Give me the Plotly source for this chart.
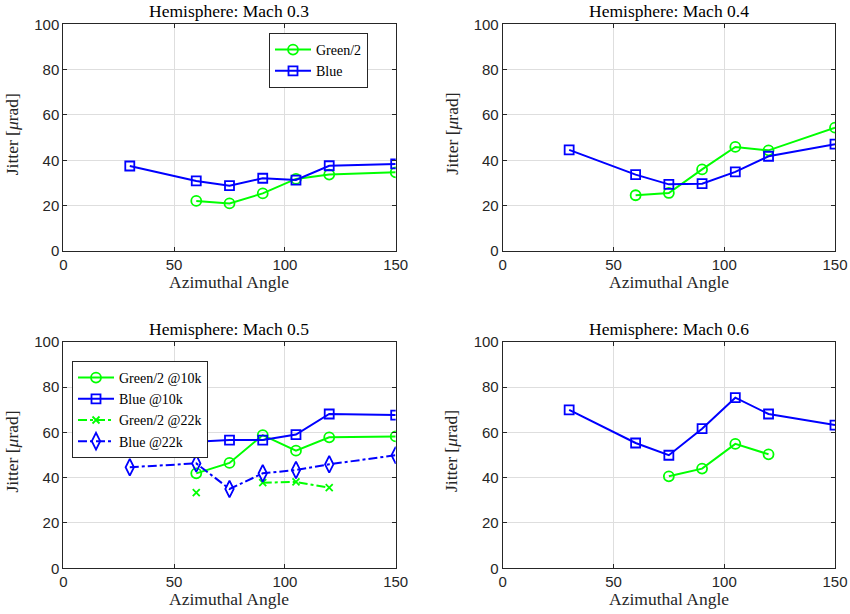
import plotly.graph_objects as go
from plotly.subplots import make_subplots

angles = [30, 60, 75, 90, 105, 120, 150]

# Mach 0.3
m03_green = [None, 22.1, 21.0, 25.4, 31.8, 33.7, 34.7]
m03_blue = [37.5, 30.9, 28.8, 32.1, 31.3, 37.6, 38.4]
# Mach 0.4
m04_green = [None, 24.6, 25.6, 36.0, 45.9, 44.4, 54.4]
m04_blue = [44.6, 33.7, 29.4, 29.7, 34.9, 41.8, 47.1]
# Mach 0.5
m05_green10 = [None, 41.9, 46.5, 58.8, 51.9, 57.8, 58.2]
m05_blue10 = [None, 55.9, 56.6, 56.6, 59.0, 68.1, 67.6]
m05_green22 = [None, 33.4, None, 37.8, 38.1, 35.6, None]
m05_blue22 = [44.6, 46.3, 35.0, 41.9, 43.4, 45.9, 49.9]
# Mach 0.6
m06_green = [None, None, 40.6, 44.0, 54.9, 50.3, None]
m06_blue = [69.9, 55.3, 49.9, 61.6, 75.3, 68.1, 63.2]

titles = ["Hemisphere: Mach 0.3", "Hemisphere: Mach 0.4",
          "Hemisphere: Mach 0.5", "Hemisphere: Mach 0.6"]
x_tick_vals = [0, 50, 100, 150]
y_tick_vals = [0, 20, 40, 60, 80, 100]

GREEN = "#00ff00"
BLUE = "#0000ff"
SERIF = "Liberation Serif, DejaVu Serif, serif"
SANS = "Liberation Sans, Arial, sans-serif"

fig = make_subplots(rows=2, cols=2)

def add(row, col, y, color, symbol, name, dash="solid", legend=None, size=10):
    fig.add_trace(go.Scatter(
        x=angles, y=y, mode="lines+markers", name=name,
        line=dict(color=color, width=2, dash=dash),
        marker=dict(symbol=symbol, size=size, color=color,
                    line=dict(color=color, width=1.8)),
        showlegend=legend is not None,
        legend=legend if legend else "legend",
        connectgaps=False,
    ), row=row, col=col)

add(1, 1, m03_green, GREEN, "circle-open", "Green/2", legend="legend")
add(1, 1, m03_blue, BLUE, "square-open", "Blue", legend="legend", size=9)
add(1, 2, m04_green, GREEN, "circle-open", "Green/2")
add(1, 2, m04_blue, BLUE, "square-open", "Blue", size=9)
add(2, 1, m05_green10, GREEN, "circle-open", "Green/2 @10k", legend="legend2")
add(2, 1, m05_blue10, BLUE, "square-open", "Blue @10k", legend="legend2", size=9)
add(2, 1, m05_green22, GREEN, "x-thin-open", "Green/2 @22k", dash="dashdot", legend="legend2", size=7)
add(2, 1, m05_blue22, BLUE, "diamond-tall-open", "Blue @22k", dash="dashdot", legend="legend2", size=12)
add(2, 2, m06_green, GREEN, "circle-open", "Green/2")
add(2, 2, m06_blue, BLUE, "square-open", "Blue", size=9)

W, H = 850, 614
def px_x(v):
    return v / W
def px_y(v):
    return 1 - v / H

xdom = [[px_x(63.3), px_x(395.7)], [px_x(502.7), px_x(835)]]
ydom = [[px_y(251), px_y(24.3)], [px_y(568.3), px_y(341.7)]]

axis_common = dict(
    showline=True, linecolor="#262626", linewidth=1, mirror="ticks",
    ticks="inside", ticklen=4, tickcolor="#262626",
    showgrid=True, gridcolor="#dedede", gridwidth=1,
    zeroline=False, automargin=False,
    tickfont=dict(family=SANS, size=15, color="#262626"),
)

for i, (r, c) in enumerate([(1, 1), (1, 2), (2, 1), (2, 2)]):
    idx = i + 1
    xa = "xaxis" if idx == 1 else f"xaxis{idx}"
    ya = "yaxis" if idx == 1 else f"yaxis{idx}"
    fig.layout[xa].update(domain=xdom[c - 1], range=[0, 150],
                          tickvals=x_tick_vals, **axis_common)
    fig.layout[ya].update(domain=ydom[r - 1], range=[0, 100],
                          tickvals=y_tick_vals, **axis_common)
    xd = xdom[c - 1]
    yd = ydom[r - 1]
    xc = (xd[0] + xd[1]) / 2
    # subplot title
    fig.add_annotation(
        text=titles[i], x=xc, y=yd[1], xref="paper", yref="paper",
        xanchor="center", yanchor="middle", yshift=13, showarrow=False,
        font=dict(family=SERIF, size=17.5, color="#000000"))
    # x-axis title
    fig.add_annotation(
        text="Azimuthal Angle", x=xc, y=yd[0], xref="paper", yref="paper",
        xanchor="center", yanchor="middle", yshift=-31, showarrow=False,
        font=dict(family=SERIF, size=17.5, color="#262626"))
    # y-axis title
    fig.add_annotation(
        text="Jitter [<i>μ</i>rad]", x=xd[0], y=(yd[0] + yd[1]) / 2 + 0.006,
        xref="paper", yref="paper", xanchor="center", yanchor="middle",
        xshift=-51, textangle=-90, showarrow=False,
        font=dict(family=SERIF, size=17.5, color="#262626"))

fig.update_layout(
    width=W, height=H,
    margin=dict(l=0, r=0, t=0, b=0),
    paper_bgcolor="white", plot_bgcolor="white",
    legend=dict(x=px_x(368), y=px_y(33), xanchor="right", yanchor="top",
                bgcolor="white", bordercolor="#262626", borderwidth=1,
                font=dict(family=SERIF, size=14, color="#000000"),
                tracegroupgap=0, itemwidth=36),
    legend2=dict(x=px_x(72), y=px_y(361), xanchor="left", yanchor="top",
                 bgcolor="white", bordercolor="#262626", borderwidth=1,
                 font=dict(family=SERIF, size=14, color="#000000"),
                 tracegroupgap=0, itemwidth=36),
)

fig.write_html("out.html", config={"displayModeBar": False},
               post_script="document.body.style.margin='0';")
